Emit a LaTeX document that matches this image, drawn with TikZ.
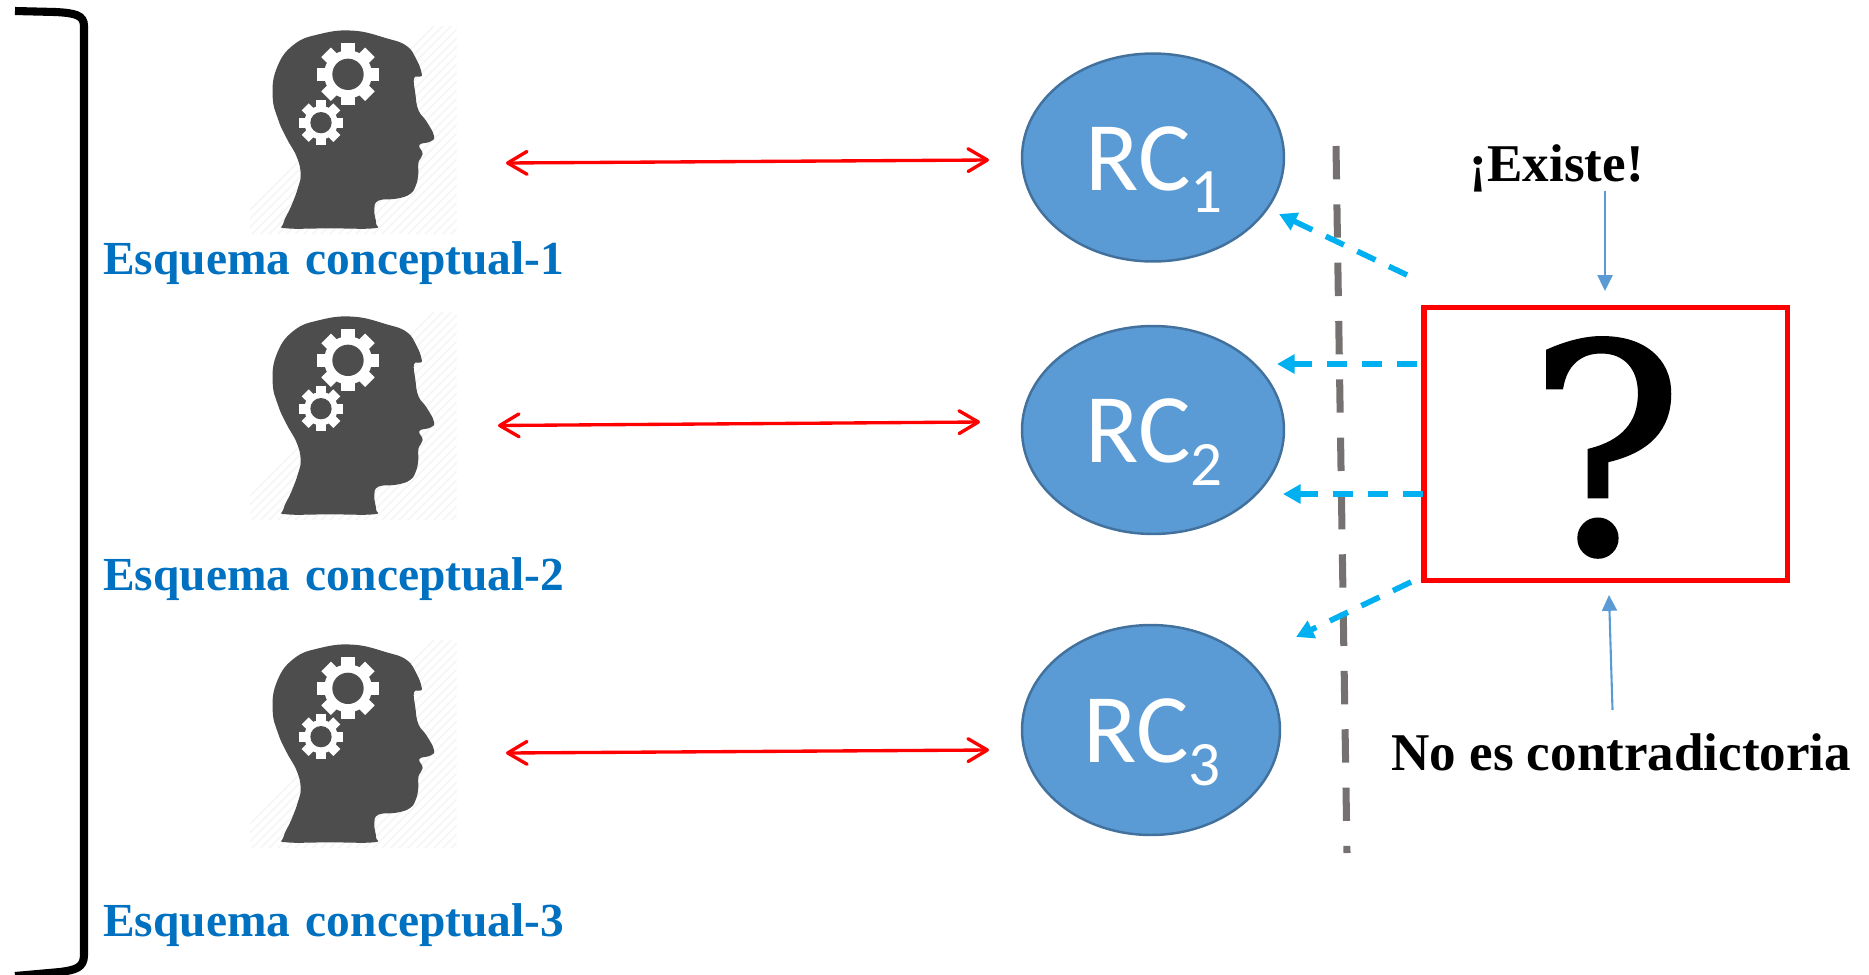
\documentclass[tikz,border=0pt]{standalone}
\usepackage{fontspec}
\usepackage{xcolor}
\usepackage{tikz}
\usetikzlibrary{arrows.meta, shapes.geometric}
\setmainfont{Liberation Serif}
\newfontfamily\rcfont{Carlito}
\newfontfamily\esqfont[WordSpace=1.3]{Liberation Serif}
\newfontfamily\markfont[RawFeature={embolden=1.2}]{DejaVu Serif}

\definecolor{headgrey}{HTML}{4D4D4D}
\definecolor{hatchgrey}{HTML}{F5F5F5}
\definecolor{rcfill}{HTML}{5B9BD5}
\definecolor{rcline}{HTML}{41719C}
\definecolor{dashblue}{HTML}{00B0F0}
\definecolor{sepgrey}{HTML}{767171}
\definecolor{labelblue}{HTML}{0070C0}

\newcommand{\rclabel}[1]{\raisebox{-18.5pt}[0pt][0pt]{\hspace{1.5pt}RC\raisebox{-13pt}{\fontsize{36}{36}\selectfont #1}}}
\newcommand{\gearwheel}[5]{
	\fill[white] (#1,#2) circle (#4);
	\foreach \ang in {0,45,90,135}
		\fill[white, rotate around={\ang:(#1,#2)}] ({#1-0.22*#3},{#2-#3}) rectangle ({#1+0.22*#3},{#2+#3});
	\fill[headgrey] (#1,#2) circle (#5);
}

\tikzset{
	rcnode/.style={ellipse, draw=rcline, line width=1.4pt, fill=rcfill, text=white, inner sep=0pt, font=\rcfont\fontsize{56}{60}\selectfont},
	esquemalabel/.style={anchor=base west, inner sep=0pt, text=labelblue, font=\esqfont\fontsize{27}{32}\selectfont\bfseries},
	notelabel/.style={anchor=base west, inner sep=0pt, font=\fontsize{30.2}{34}\selectfont\bfseries},
	redarrow/.style={red, line width=1.9pt, {Straight Barb[length=11pt,width=13pt,round]}-{Straight Barb[length=11pt,width=13pt,round]}},
	dasharrow/.style={dashblue, line width=3.2pt, dash pattern=on 11.4pt off 8.5pt, -{Triangle[length=10pt,width=10.5pt]}},
	notearrow/.style={rcfill, line width=1.2pt, -{Triangle[length=9pt,width=8.5pt]}},
	headicon/.pic={
		\begin{scope}
			\clip (60,50) rectangle (680,670);
			\foreach \k in {0,26,...,1300}
				\draw[hatchgrey, line width=0.9pt] ({\k-20},680) -- ({\k+640},20);
		\end{scope}
		\fill[headgrey] plot[smooth cycle, tension=0.75] coordinates {(160,640) (185,585) (205,530) (212,490) (200,440) (170,385) (145,330) (128,260) (140,175) (190,105) (270,72) (370,62) (470,85) (530,108) (560,150) (575,190) (570,200) (552,205) (556,250) (565,300) (590,335) (612,378) (600,395) (568,405) (578,432) (565,458) (565,490) (558,525) (540,552) (500,566) (445,572) (433,600) (438,640) (430,655) (300,655) (170,655)};
		\gearwheel{354}{193}{93}{72}{47}
		\gearwheel{273}{338}{67}{50}{32}
	}
}

\begin{document}
\begin{tikzpicture}[x=0.02cm, y=-0.02cm]
	\useasboundingbox (0,0) rectangle (1869,974);

	\draw[black, line width=4.6pt] (15,11) -- (55,12) .. controls (75,13) and (84,15) .. (84,26) -- (84,955) .. controls (84,968) and (75,970) .. (60,972) -- (15,976);

	\pic[scale=1/3] (head1) at (230,10) {headicon};
	\pic[scale=1/3] (head2) at (230,296) {headicon};
	\pic[scale=1/3] (head3) at (230,624) {headicon};

	\node[esquemalabel] (esq1) at (103,274) {Esquema conceptual-1};
	\node[esquemalabel] (esq2) at (103,590) {Esquema conceptual-2};
	\node[esquemalabel] (esq3) at (103,936) {Esquema conceptual-3};

	\node[rcnode, minimum width=5.24cm, minimum height=4.16cm] (rc1) at (1153,157.5) {\rclabel{1}};
	\node[rcnode, minimum width=5.24cm, minimum height=4.16cm] (rc2) at (1153,430) {\rclabel{2}};
	\node[rcnode, minimum width=5.16cm, minimum height=4.2cm] (rc3) at (1151,730) {\rclabel{3}};

	\coordinate (h1) at (506,163);
	\coordinate (r1) at (989,160);
	\coordinate (h2) at (498,425.5);
	\coordinate (r2) at (980,422);
	\coordinate (h3) at (506,753);
	\coordinate (r3) at (989,750);
	\draw[redarrow] (h1) -- (r1);
	\draw[redarrow] (h2) -- (r2);
	\draw[redarrow] (h3) -- (r3);

	\coordinate (septop) at (1336,146);
	\coordinate (sepbot) at (1347,853);
	\draw[sepgrey, line width=4pt, dash pattern=on 19pt off 14.2pt] (septop) -- (sepbot);

	\node[draw=red, line width=3pt, minimum width=7.27cm, minimum height=5.46cm, inner sep=0pt, font=\markfont\fontsize{165}{170}\selectfont] (qbox) at (1605.8,444) {\raisebox{-62pt}[0pt][0pt]{?}};

	\coordinate (t1) at (1407,275);
	\coordinate (e1) at (1279,214);
	\coordinate (t2) at (1417,364);
	\coordinate (e2) at (1277,364);
	\coordinate (t3) at (1423,494);
	\coordinate (e3) at (1283,494);
	\coordinate (t4) at (1411,582);
	\coordinate (e4) at (1296,637);
	\draw[dasharrow] (t1) -- (e1);
	\draw[dasharrow] (t2) -- (e2);
	\draw[dasharrow] (t3) -- (e3);
	\draw[dasharrow] (t4) -- (e4);

	\node[notelabel] (existe) at (1469.5,181) {¡Existe!};
	\node[notelabel] (nocontra) at (1391,770) {No es contradictoria};

	\coordinate (n1a) at (1605,191);
	\coordinate (n1b) at (1605,291);
	\coordinate (n2a) at (1612.5,710);
	\coordinate (n2b) at (1609,595);
	\draw[notearrow] (n1a) -- (n1b);
	\draw[notearrow] (n2a) -- (n2b);
\end{tikzpicture}
\end{document}
